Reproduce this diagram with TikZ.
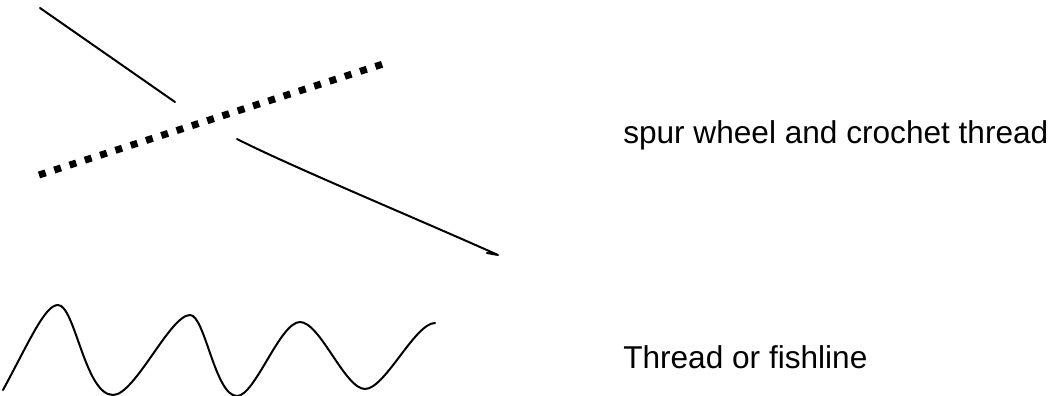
\documentclass[tikz,border=0pt]{standalone}
\usepackage{fontspec}
\setmainfont{Liberation Sans}
\begin{document}
\begin{tikzpicture}[x=0.75pt,y=-0.75pt,
  thread/.style={line width=1.5pt,line cap=round,line join=round},
  spur/.style={line width=5.25pt,dash pattern=on 5.25pt off 6.8pt},
  label/.style={anchor=base west,inner sep=0pt,font=\fontsize{23.7pt}{28pt}\selectfont}]
\useasboundingbox (0,0) rectangle (1053,396);
% upper thread (passes under the spur wheel line)
\coordinate (t1) at (40,8);
\coordinate (t2) at (175,102);
\coordinate (t3) at (237,139);
\coordinate (t4) at (498,255);
\coordinate (t5) at (487,253);
\draw[thread] (t1) -- (t2);
\draw[thread] (t3) .. controls (290,166) and (420,220) .. (t4) -- (t5);
% spur wheel perforation
\coordinate (s1) at (39,175);
\coordinate (s2) at (383,64);
\draw[spur] (s1) -- (s2);
\node[label] (lab1) at (623,143) {spur wheel and crochet thread};
% wavy thread
\coordinate (w0) at (3,390);
\draw[thread] (w0) .. controls (30,340) and (45,305) .. (58,305)
  .. controls (75,305) and (85,395) .. (113,395)
  .. controls (135,395) and (170,315) .. (190,315)
  .. controls (205,315) and (215,396) .. (237,396)
  .. controls (255,396) and (280,322) .. (300,322)
  .. controls (320,322) and (345,389) .. (365,389)
  .. controls (385,389) and (415,323) .. (435,323);
\node[label] (lab2) at (623,368) {Thread or fishline};
\end{tikzpicture}
\end{document}
